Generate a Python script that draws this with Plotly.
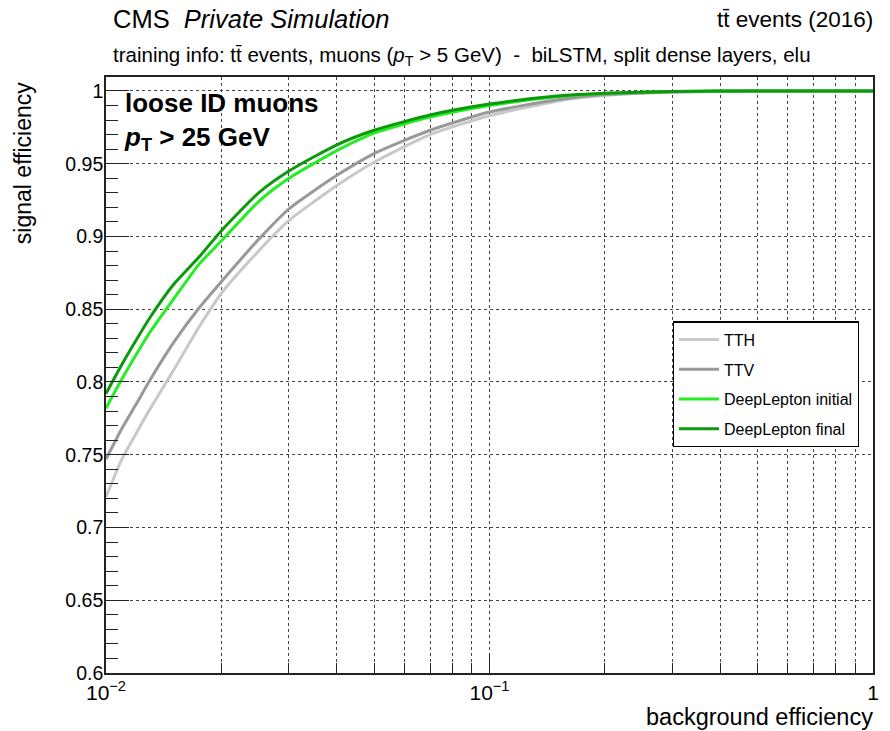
import plotly.graph_objects as go

# ROC curves: background efficiency (x) vs signal efficiency (y)
bkg_eff = [0.01, 0.011, 0.012, 0.013, 0.015, 0.0175, 0.02, 0.025, 0.03,
           0.04, 0.05, 0.07, 0.1, 0.15, 0.2, 0.3, 0.5, 1.0]

sig_tth = [0.721, 0.747, 0.765, 0.781, 0.808, 0.838, 0.861, 0.890, 0.911,
           0.935, 0.951, 0.970, 0.983, 0.993, 0.997, 0.9992, 1.0, 1.0]
sig_ttv = [0.747, 0.768, 0.785, 0.801, 0.827, 0.851, 0.869, 0.898, 0.919,
           0.942, 0.957, 0.973, 0.9855, 0.994, 0.9975, 0.9993, 1.0, 1.0]
sig_dl_initial = [0.782, 0.802, 0.819, 0.834, 0.857, 0.881, 0.897, 0.924, 0.940,
                  0.959, 0.971, 0.982, 0.990, 0.996, 0.9982, 0.9996, 1.0, 1.0]
sig_dl_final = [0.792, 0.812, 0.829, 0.844, 0.867, 0.886, 0.904, 0.930, 0.945,
                0.963, 0.973, 0.9835, 0.991, 0.9965, 0.9985, 0.9997, 1.0, 1.0]

series_names = ["TTH", "TTV", "DeepLepton initial", "DeepLepton final"]
series_colors = ["#c8c8c8", "#999999", "#22ee22", "#0c9a0c"]

y_tick_vals = [0.6, 0.65, 0.7, 0.75, 0.8, 0.85, 0.9, 0.95, 1.0]
y_tick_text = ["0.6", "0.65", "0.7", "0.75", "0.8", "0.85", "0.9", "0.95", "1"]
x_tick_vals = [0.01, 0.1, 1.0]
x_tick_text = ["10<sup>\u22122</sup>", "10<sup>\u22121</sup>", "1"]
x_minor_vals = [0.02, 0.03, 0.04, 0.05, 0.06, 0.07, 0.08, 0.09,
                0.2, 0.3, 0.4, 0.5, 0.6, 0.7, 0.8, 0.9]

FONT = "Liberation Sans, Arial, Helvetica, sans-serif"

fig = go.Figure()
for name, color, ys in zip(series_names, series_colors,
                           [sig_tth, sig_ttv, sig_dl_initial, sig_dl_final]):
    fig.add_trace(go.Scatter(
        x=bkg_eff, y=ys, mode="lines", name=name, legendgroup=name,
        line=dict(color=color, width=3, shape="spline", smoothing=0.6),
    ))

grid_color = "#444444"
fig.update_xaxes(
    type="log", range=[-2, 0],
    tickmode="array", tickvals=x_tick_vals, ticktext=x_tick_text,
    ticks="inside", ticklen=19, tickwidth=1.2, tickcolor="#222",
    showgrid=True, gridcolor=grid_color, griddash="dot", gridwidth=1,
    minor=dict(tickmode="array", tickvals=x_minor_vals, ticks="inside",
               ticklen=10, tickwidth=1.2, tickcolor="#222",
               showgrid=True, gridcolor=grid_color, griddash="dot", gridwidth=1),
    showline=True, linecolor="#222", linewidth=1.6, mirror=True,
    zeroline=False,
    tickfont=dict(family=FONT, size=21, color="black"),
)
fig.update_yaxes(
    range=[0.6, 1.0096],
    tickmode="array", tickvals=y_tick_vals, ticktext=y_tick_text,
    ticks="inside", ticklen=23, tickwidth=1.2, tickcolor="#222",
    showgrid=True, gridcolor=grid_color, griddash="dot", gridwidth=1,
    minor=dict(tickmode="linear", tick0=0.6, dtick=0.01, ticks="inside",
               ticklen=12, tickwidth=1.2, tickcolor="#222", showgrid=False),
    showline=True, linecolor="#222", linewidth=1.6, mirror=True,
    zeroline=False, ticklabelstandoff=-3,
    tickfont=dict(family=FONT, size=19.5, color="black"),
)

annotations = [
    dict(text="CMS  <i>Private Simulation</i>", x=0.007, y=1.097,
         xanchor="left", yanchor="middle", font=dict(size=25.5)),
    dict(text="tt\u0304 events (2016)",
         x=1.002, y=1.097, xanchor="right", yanchor="middle", font=dict(size=22.5)),
    dict(text="training info: tt\u0304 events, muons (<i>p</i><sub>T</sub> &gt; 5 GeV)"
              "  -  biLSTM, split dense layers, elu",
         x=0.007, y=1.035, xanchor="left", yanchor="middle", font=dict(size=20.5)),
    dict(text="<b>loose ID muons</b><br><b><i>p</i><sub>T</sub> &gt; 25 GeV</b>",
         x=0.021, y=0.985, xanchor="left", yanchor="top", align="left",
         font=dict(size=26)),
    dict(text="signal efficiency", textangle=-90, x=-0.108, y=0.995,
         xanchor="center", yanchor="top", font=dict(size=23)),
    dict(text="background efficiency", x=1.003, y=-0.074,
         xanchor="right", yanchor="middle", font=dict(size=23.5)),
]
for a in annotations:
    a.update(xref="paper", yref="paper", showarrow=False)
    a["font"].update(family=FONT, color="black")

fig.update_layout(
    width=890, height=731,
    margin=dict(l=106, r=11, t=77, b=58),
    paper_bgcolor="white", plot_bgcolor="white",
    annotations=annotations,
    showlegend=True,
    legend=dict(
        x=0.739, y=0.59, xanchor="left", yanchor="top",
        bgcolor="white", bordercolor="black", borderwidth=1.2,
        font=dict(family=FONT, size=16, color="black"),
        tracegroupgap=6, itemwidth=40,
    ),
)

fig.write_html("out.html")
